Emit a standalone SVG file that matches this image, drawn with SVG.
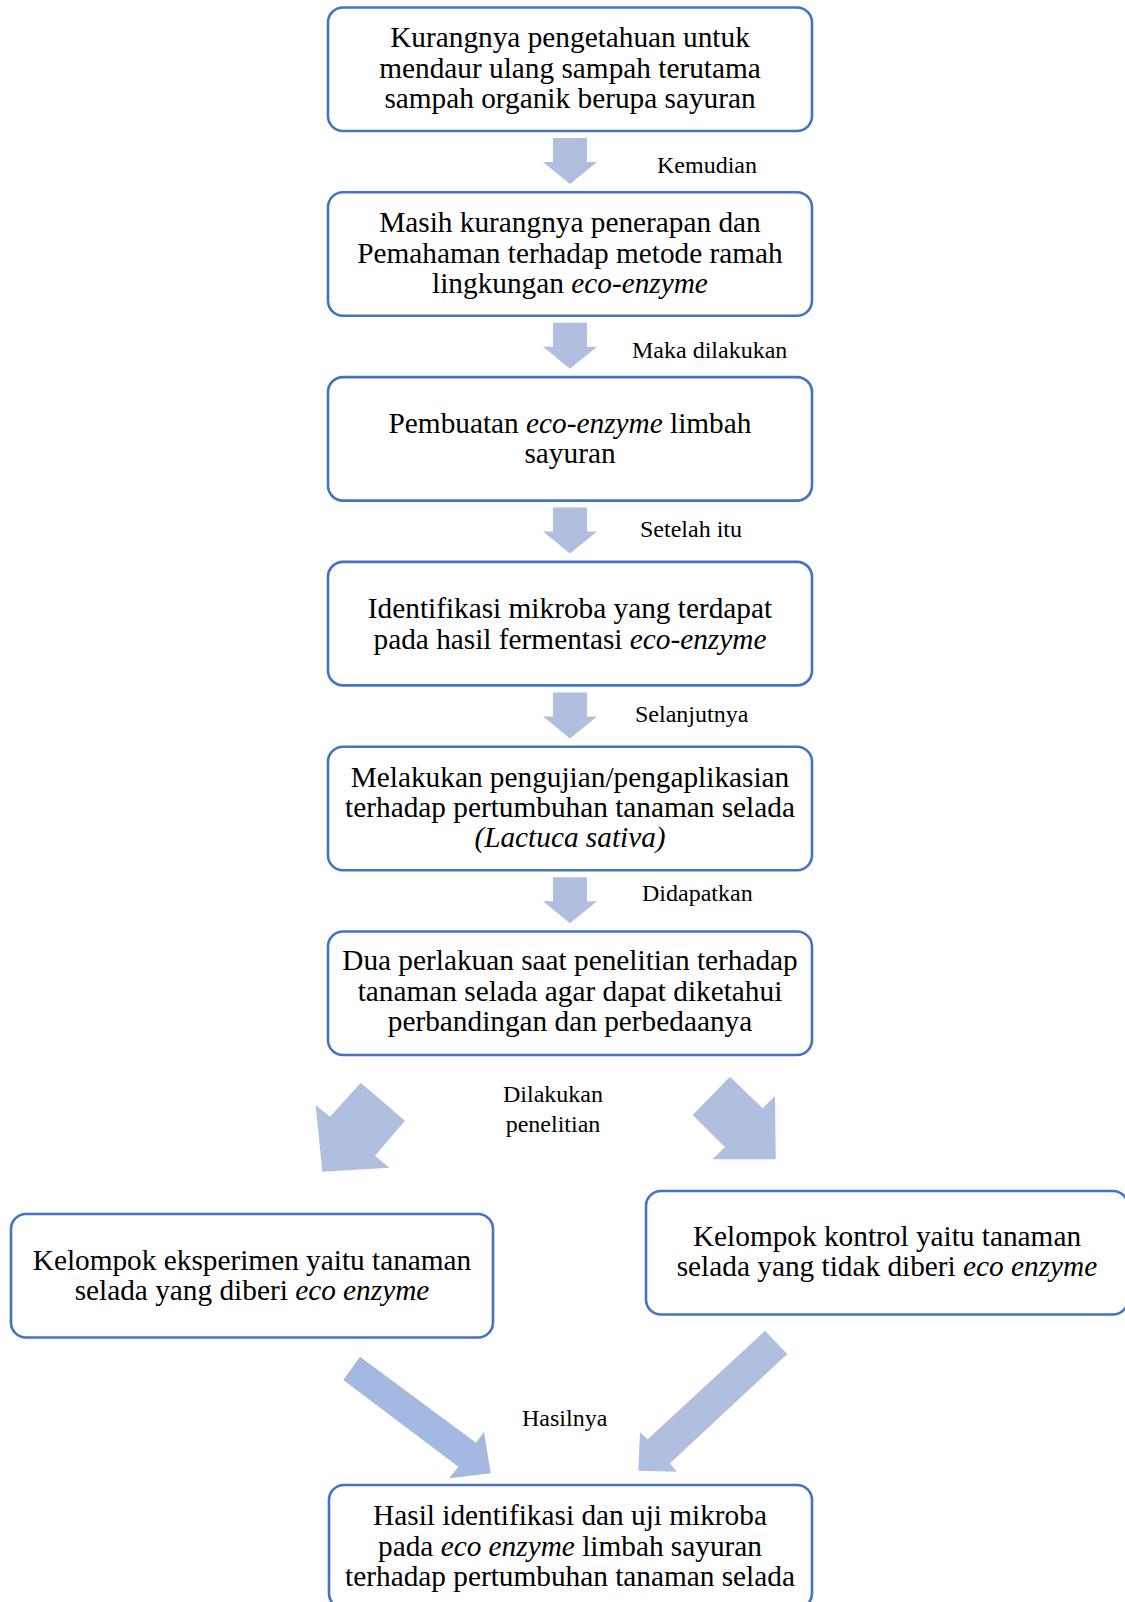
<svg xmlns="http://www.w3.org/2000/svg" width="1125" height="1602" viewBox="0 0 1125 1602">
<style>
.box{fill:#fff;stroke:#4472C4;stroke-width:2.6}
.t{font-family:"Liberation Serif","Times New Roman",serif;font-size:29.3px;fill:#000;text-anchor:middle}
.l{font-family:"Liberation Serif","Times New Roman",serif;font-size:24px;fill:#000}
.arr{fill:#B0BEDF}
.arr2{fill:#A3B9E1}
.i{font-style:italic}
</style>
<defs>
<polygon id="down" points="553,138 587,138 587,162 597,162 570,184 543,162 553,162"/>
</defs>
<rect width="1125" height="1602" fill="#fff"/>
<g id="connectors">
<use href="#down" class="arr"/>
<use href="#down" class="arr" transform="translate(0,184.8)"/>
<use href="#down" class="arr" transform="translate(0,369.6)"/>
<use href="#down" class="arr" transform="translate(0,554.4)"/>
<use href="#down" class="arr" transform="translate(0,739.2)"/>
<polygon class="arr" points="315.7,1105 330,1116.7 360.7,1082.7 405,1120.7 375,1155.7 389.3,1167.7 322.3,1171.7"/>
<polygon class="arr" points="730,1076.7 692.7,1115 725,1147.3 712.3,1159.3 775.7,1159.3 775,1096 762.7,1108.3"/>
<polygon class="arr2" points="360,1356.7 343.3,1380 458.3,1466.7 449.3,1478.3 490.7,1473.3 484,1431.7 476,1442.7"/>
<polygon class="arr" points="765,1330.7 787.3,1354 670,1463.3 676.7,1471.7 638.3,1470.7 640,1432.3 647.7,1439.3"/>
<text class="l" x="657" y="173">Kemudian</text>
<text class="l" x="632" y="358">Maka dilakukan</text>
<text class="l" x="640" y="537">Setelah itu</text>
<text class="l" x="635" y="722">Selanjutnya</text>
<text class="l" x="642" y="901">Didapatkan</text>
<text class="l" x="553" y="1102" text-anchor="middle">Dilakukan</text>
<text class="l" x="553" y="1132" text-anchor="middle">penelitian</text>
<text class="l" x="522" y="1426">Hasilnya</text>
</g>
<g id="n1">
<rect class="box" x="328" y="7.5" width="484" height="123.5" rx="15"/>
<text class="t" x="570" y="47">Kurangnya pengetahuan untuk</text>
<text class="t" x="570" y="78">mendaur ulang sampah terutama</text>
<text class="t" x="570" y="108">sampah organik berupa sayuran</text>
</g>
<g id="n2">
<rect class="box" x="328" y="192.3" width="484" height="123.5" rx="15"/>
<text class="t" x="570" y="232">Masih kurangnya penerapan dan</text>
<text class="t" x="570" y="263">Pemahaman terhadap metode ramah</text>
<text class="t" x="570" y="293">lingkungan <tspan class="i">eco-enzyme</tspan></text>
</g>
<g id="n3">
<rect class="box" x="328" y="377.1" width="484" height="123.5" rx="15"/>
<text class="t" x="570" y="433">Pembuatan <tspan class="i">eco-enzyme</tspan> limbah</text>
<text class="t" x="570" y="463">sayuran</text>
</g>
<g id="n4">
<rect class="box" x="328" y="561.9" width="484" height="123.5" rx="15"/>
<text class="t" x="570" y="618">Identifikasi mikroba yang terdapat</text>
<text class="t" x="570" y="649">pada hasil fermentasi <tspan class="i">eco-enzyme</tspan></text>
</g>
<g id="n5">
<rect class="box" x="328" y="746.7" width="484" height="123.5" rx="15"/>
<text class="t" x="570" y="787">Melakukan pengujian/pengaplikasian</text>
<text class="t" x="570" y="817">terhadap pertumbuhan tanaman selada</text>
<text class="t" x="570" y="847"><tspan class="i">(Lactuca sativa)</tspan></text>
</g>
<g id="n6">
<rect class="box" x="328" y="931.5" width="484" height="123.5" rx="15"/>
<text class="t" x="570" y="970">Dua perlakuan saat penelitian terhadap</text>
<text class="t" x="570" y="1001">tanaman selada agar dapat diketahui</text>
<text class="t" x="570" y="1031">perbandingan dan perbedaanya</text>
</g>
<g id="n7">
<rect class="box" x="11" y="1214" width="482" height="123.5" rx="15"/>
<text class="t" x="252" y="1270">Kelompok eksperimen yaitu tanaman</text>
<text class="t" x="252" y="1300">selada yang diberi <tspan class="i">eco enzyme</tspan></text>
</g>
<g id="n8">
<rect class="box" x="646" y="1191" width="482" height="123.5" rx="15"/>
<text class="t" x="887" y="1246">Kelompok kontrol yaitu tanaman</text>
<text class="t" x="887" y="1276">selada yang tidak diberi <tspan class="i">eco enzyme</tspan></text>
</g>
<g id="n9">
<rect class="box" x="329" y="1485" width="483" height="123.5" rx="15"/>
<text class="t" x="570" y="1525">Hasil identifikasi dan uji mikroba</text>
<text class="t" x="570" y="1556">pada <tspan class="i">eco enzyme</tspan> limbah sayuran</text>
<text class="t" x="570" y="1586">terhadap pertumbuhan tanaman selada</text>
</g>
</svg>
